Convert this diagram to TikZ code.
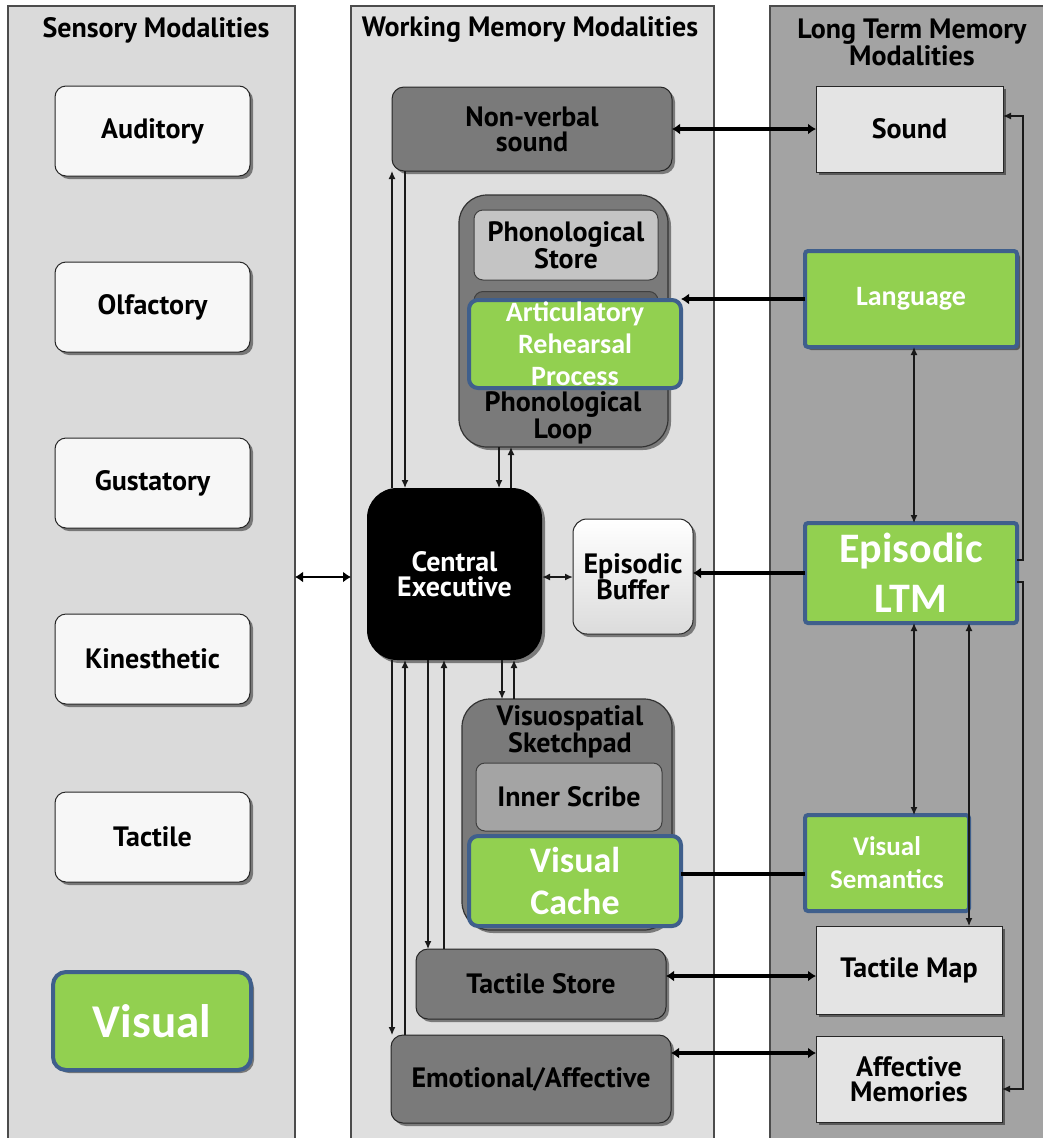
\documentclass[tikz,border=0pt]{standalone}
\usepackage{fontspec}
\setmainfont{PT Sans}
\newfontfamily\leaffamily{Carlito}
\usetikzlibrary{arrows.meta,shadows}

\definecolor{panelL}{HTML}{DADADA}
\definecolor{panelM}{HTML}{DFDFDF}
\definecolor{panelR}{HTML}{A3A3A3}
\definecolor{boxdark}{HTML}{7A7A7A}
\definecolor{boxmid}{HTML}{A4A4A4}
\definecolor{boxpale}{HTML}{C4C4C4}
\definecolor{boxlight}{HTML}{E4E4E4}
\definecolor{leaf}{HTML}{92D050}
\definecolor{leafedge}{HTML}{3F5F8C}

\newcommand\labfont{\fontsize{28}{25}\selectfont\bfseries}
\newcommand\leaffont[2]{\leaffamily\fontsize{#1}{#2}\selectfont\bfseries}

\tikzset{
  base/.style={inner sep=0pt, outer sep=0pt, align=center, font=\labfont},
  softshadow/.style={drop shadow={shadow xshift=3pt, shadow yshift=-3pt, opacity=0.45, fill=black}},
  panel/.style={base, draw=black!70, line width=1.2pt},
  wbox/.style={base, draw=black!85, fill=white!97!black, line width=1pt, rounded corners=11pt, softshadow},
  dbox/.style={base, draw=black!85, fill=boxdark, line width=1pt, rounded corners=12pt, softshadow},
  holder/.style={base, draw=black!80, fill=boxdark, line width=1.2pt, rounded corners=28pt, softshadow},
  inbox/.style={base, draw=black!75, line width=1pt, rounded corners=9pt},
  lbox/.style={base, draw=black!85, fill=boxlight, line width=1pt, softshadow},
  gbox/.style={base, draw=leafedge, fill=leaf, line width=4pt, rounded corners=9pt, text=white},
  label/.style={base},
  thin/.style={line width=1.2pt, draw=black!90},
  tarrow/.style={thin, -{Latex[length=8pt,width=7pt]}},
  tboth/.style={thin, {Latex[length=8pt,width=7pt]}-{Latex[length=8pt,width=7pt]}},
  fat/.style={line width=3.6pt, draw=black},
  fboth/.style={fat, {Latex[length=8pt,width=11pt]}-{Latex[length=8pt,width=11pt]}},
  farrow/.style={fat, -{Latex[length=8pt,width=11pt]}},
}

\begin{document}
\begin{tikzpicture}[x=1pt,y=-1pt]
\useasboundingbox (0,0) rectangle (1043,1138);
\clip (0,0) rectangle (1043,1138);
\fill[white] (0,0) rectangle (1043,1138);

% three columns
\node[panel, fill=panelL, minimum width=287pt, minimum height=1150pt] (sens) at (151.5,581) {};
\node[panel, fill=panelM, minimum width=363pt, minimum height=1150pt] (wm) at (532.5,581) {};
\node[panel, fill=panelR, minimum width=290pt, minimum height=1150pt] (ltmp) at (915,581) {};

\node[label] (sensh) at (156,30) {Sensory Modalities};
\node[label] (wmh) at (530,30) {Working Memory Modalities};
\node[label, font=\fontsize{28}{24}\selectfont\bfseries] (ltmh) at (912,42) {Long Term Memory\\Modalities};

% sensory modalities
\node[wbox, minimum width=195pt, minimum height=90pt] (aud) at (152.5,131) {Auditory};
\node[wbox, minimum width=195pt, minimum height=90pt] (olf) at (152.5,307) {Olfactory};
\node[wbox, minimum width=195pt, minimum height=90pt] (gus) at (152.5,483) {Gustatory};
\node[wbox, minimum width=195pt, minimum height=90pt] (kin) at (152.5,659) {Kinesthetic};
\node[wbox, minimum width=195pt, minimum height=90pt] (tac) at (152.5,837) {Tactile};
\node[gbox, softshadow, rounded corners=13pt, minimum width=198pt, minimum height=98pt, font=\leaffont{47}{47}] (vis) at (152,1021) {Visual};

% working memory
\node[dbox, minimum width=280pt, minimum height=84pt] (nvs) at (532,129) {Non-verbal\\sound};

\node[holder, minimum width=209pt, minimum height=252pt] (loop) at (563.5,321) {};
\node[inbox, fill=boxpale, minimum width=184pt, minimum height=70pt] (pstore) at (566,245) {Phonological\\Store};
\node[inbox, fill=black!62, minimum width=184pt, minimum height=93pt] (arpback) at (566,338) {};
\node[gbox, minimum width=212pt, minimum height=88pt, font=\leaffont{28}{32}] (arp) at (575,344) {Articulatory\\Rehearsal\\Process};
\node[label] (looplab) at (563,418) {Phonological\\Loop};

\node[base, fill=black, rounded corners=30pt, minimum width=175pt, minimum height=172pt, text=white, softshadow] (ce) at (454.5,574) {Central\\Executive};
\node[wbox, top color=white, bottom color=black!14, rounded corners=14pt, minimum width=120pt, minimum height=115pt] (buf) at (633,576.5) {Episodic\\Buffer};

\node[holder, minimum width=210pt, minimum height=231pt] (sketch) at (567,814.5) {};
\node[label] (sketchlab) at (570,732) {Visuospatial\\Sketchpad};
\node[inbox, fill=boxmid, minimum width=186pt, minimum height=68pt] (scribe) at (569,797) {Inner Scribe};
\node[gbox, minimum width=212pt, minimum height=90pt, font=\leaffont{36}{42}] (vcache) at (575,881) {Visual\\Cache};

\node[dbox, minimum width=250pt, minimum height=70pt] (tstore) at (541,984) {Tactile Store};
\node[dbox, minimum width=280pt, minimum height=88pt] (emo) at (531,1079) {Emotional/Affective};

% long term memory
\node[lbox, minimum width=187pt, minimum height=86pt] (sound) at (909.5,129) {Sound};
\node[gbox, rounded corners=3pt, softshadow, minimum width=212pt, minimum height=96pt, font=\leaffont{28}{30}] (lang) at (911,299) {Language};
\node[gbox, rounded corners=3pt, minimum width=212pt, minimum height=100pt, font=\leaffont{42}{50}] (eltm) at (911,573) {Episodic\\LTM};
\node[gbox, rounded corners=3pt, minimum width=164pt, minimum height=96pt, font=\leaffont{27}{33}] (vsem) at (887,863) {Visual\\Semantics};
\node[lbox, minimum width=186pt, minimum height=88pt] (tmap) at (909,970) {Tactile Map};
\node[lbox, minimum width=186pt, minimum height=86pt] (amem) at (909,1079) {Affective\\Memories};

% lanes for the connectors
\coordinate (x392) at (392,0);
\coordinate (x405) at (405,0);
\coordinate (x428) at (428,0);
\coordinate (x444) at (444,0);
\coordinate (x499) at (499,0);
\coordinate (x511) at (511,0);
\coordinate (x502) at (502,0);
\coordinate (x514) at (514,0);
\coordinate (x914) at (914,0);
\coordinate (x969) at (969,0);
\coordinate (y577) at (0,577);
\coordinate (y874) at (0,874);
\coordinate (y976) at (0,976);
\coordinate (y1053) at (0,1053);
\coordinate (rtop) at (1023,116);
\coordinate (rbot) at (1023,1089);
\coordinate (etop) at (0,560);
\coordinate (ebot) at (0,582);

% central executive links
\draw[tarrow] (ce.north -| x392) -- (nvs.south -| x392);
\draw[tarrow] (nvs.south -| x405) -- (ce.north -| x405);
\draw[tarrow] (loop.south -| x499) -- (ce.north -| x499);
\draw[tarrow] (ce.north -| x511) -- (loop.south -| x511);
\draw[tarrow] (ce.south -| x502) -- (sketch.north -| x502);
\draw[tarrow] (sketch.north -| x514) -- (ce.south -| x514);
\draw[tarrow] (ce.south -| x392) -- (emo.north -| x392);
\draw[tarrow] (emo.north -| x405) -- (ce.south -| x405);
\draw[tarrow] (ce.south -| x428) -- (tstore.north -| x428);
\draw[tarrow] (tstore.north -| x444) -- (ce.south -| x444);
\draw[fboth, line width=2.6pt] (sens.east |- y577) -- (wm.west |- y577);
\draw[tboth, line width=1.7pt] (ce.east |- y577) -- (buf.west |- y577);

% working memory to long term memory
\draw[fboth] (nvs.east) -- (sound.west);
\draw[farrow] (lang.west) -- (lang.west -| arp.east);
\draw[farrow] (eltm.west) -- (eltm.west -| buf.east);
\draw[fat] (vcache.east |- y874) -- (vsem.west |- y874);
\draw[fboth] (tstore.east |- y976) -- (tmap.west |- y976);
\draw[fboth] (emo.east |- y1053) -- (amem.west |- y1053);

% links inside long term memory
\draw[tboth] (lang.south -| x914) -- (eltm.north -| x914);
\draw[tboth] (eltm.south -| x914) -- (vsem.north -| x914);
\draw[tboth] (eltm.south -| x969) -- (tmap.north -| x969);
\draw[tarrow] (eltm.east |- etop) -| (rtop) -- (sound.east |- rtop);
\draw[tarrow] (eltm.east |- ebot) -| (rbot) -- (amem.east |- rbot);
\end{tikzpicture}
\end{document}
